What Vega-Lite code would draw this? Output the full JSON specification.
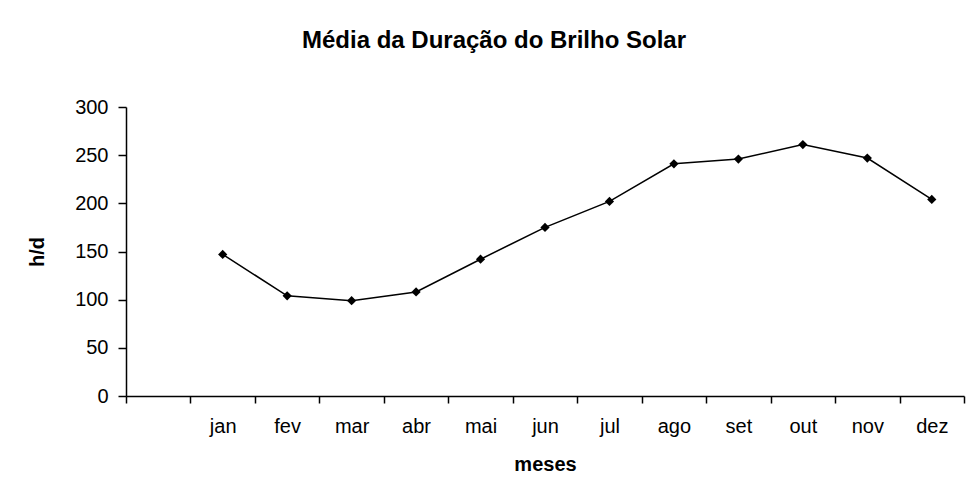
{
  "$schema": "https://vega.github.io/schema/vega-lite/v6.json",
  "autosize": "none",
  "width": 838,
  "height": 289,
  "padding": {"left": 126, "top": 107, "right": 8, "bottom": 107},
  "background": "white",
  "config": {
    "view": {"stroke": null},
    "font": "Liberation Sans",
    "axis": {
      "labelFont": "Liberation Sans",
      "titleFont": "Liberation Sans",
      "labelColor": "black",
      "titleColor": "black",
      "domainColor": "black",
      "tickColor": "black",
      "domainWidth": 1.5,
      "tickWidth": 1.5,
      "grid": false
    }
  },
  "title": {
    "text": "Média da Duração do Brilho Solar",
    "font": "Liberation Sans",
    "fontSize": 24,
    "fontWeight": "bold",
    "color": "black",
    "anchor": "middle",
    "frame": "group",
    "baseline": "alphabetic",
    "offset": 25,
    "dx": -51
  },
  "data": {
    "values": [
      {"mes": "jan", "hd": 147},
      {"mes": "fev", "hd": 104},
      {"mes": "mar", "hd": 99},
      {"mes": "abr", "hd": 108},
      {"mes": "mai", "hd": 142},
      {"mes": "jun", "hd": 175},
      {"mes": "jul", "hd": 202},
      {"mes": "ago", "hd": 241},
      {"mes": "set", "hd": 246},
      {"mes": "out", "hd": 261},
      {"mes": "nov", "hd": 247},
      {"mes": "dez", "hd": 204}
    ]
  },
  "mark": {
    "type": "line",
    "color": "black",
    "strokeWidth": 1.5,
    "point": {"shape": "diamond", "size": 85, "filled": true, "color": "black"}
  },
  "encoding": {
    "x": {
      "field": "mes",
      "type": "ordinal",
      "bandPosition": 0.5,
      "scale": {
        "type": "band",
        "domain": [" ", "jan", "fev", "mar", "abr", "mai", "jun", "jul", "ago", "set", "out", "nov", "dez"],
        "paddingInner": 0,
        "paddingOuter": 0
      },
      "axis": {
        "title": "meses",
        "titleFontSize": 20,
        "titleFontWeight": "bold",
        "titlePadding": 18,
        "labelFontSize": 20,
        "labelAngle": 0,
        "labelPadding": 13,
        "tickSize": 7,
        "tickBand": "extent"
      }
    },
    "y": {
      "field": "hd",
      "type": "quantitative",
      "scale": {"domain": [0, 300], "nice": false, "zero": true},
      "axis": {
        "title": "h/d",
        "titleFontSize": 20,
        "titleFontWeight": "bold",
        "titlePadding": 27,
        "labelFontSize": 20,
        "labelPadding": 10,
        "tickSize": 8,
        "values": [0, 50, 100, 150, 200, 250, 300]
      }
    }
  }
}
